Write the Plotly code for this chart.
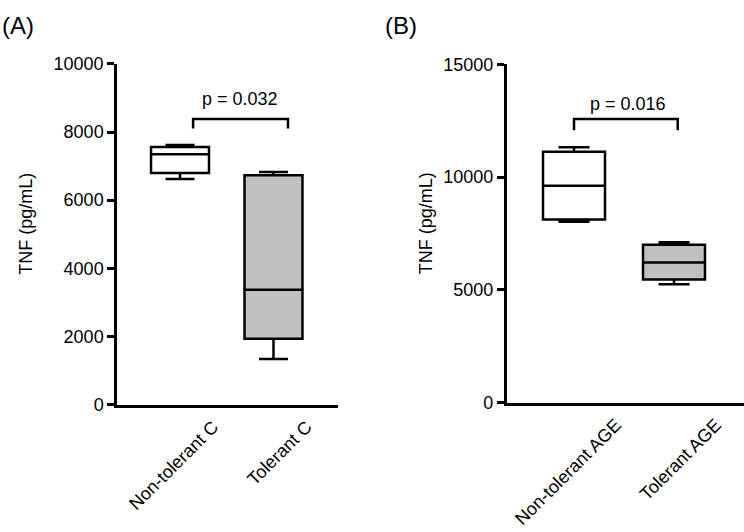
import plotly.graph_objects as go

# ---------------- data ----------------
cats_a = ["Non-tolerant C", "Tolerant C"]
upper_a = [7620, 6830]
q3_a = [7560, 6730]
median_a = [7345, 3370]
q1_a = [6800, 1930]
lower_a = [6620, 1340]

cats_b = ["Non-tolerant AGE", "Tolerant AGE"]
upper_b = [11320, 7115]
q3_b = [11130, 7000]
median_b = [9615, 6220]
q1_b = [8120, 5465]
lower_b = [8025, 5250]

fills = ["#ffffff", "#c0c0c0"]

# significance brackets (x span in category units, y level / leg end in pg/mL)
brk_a_x = [0.14, 0.14, 1.155, 1.155]
brk_a_y = [8100, 8380, 8380, 8100]
p_a = "p = 0.032"
brk_b_x = [0.0, 0.0, 1.037, 1.037]
brk_b_y = [12080, 12580, 12580, 12080]
p_b = "p = 0.016"

FONT = "Liberation Sans, Arial, sans-serif"
W, H = 744, 532

fig = go.Figure()


def add_boxes(cats, lo, q1, med, q3, hi, xa, ya):
    for i in range(len(cats)):
        fig.add_trace(go.Box(
            x=[i], q1=[q1[i]], median=[med[i]], q3=[q3[i]],
            lowerfence=[lo[i]], upperfence=[hi[i]],
            width=0.62, whiskerwidth=0.5,
            fillcolor=fills[i], line=dict(color="black", width=2.5),
            boxpoints=False, xaxis=xa, yaxis=ya, showlegend=False,
            hoverinfo="skip"))


add_boxes(cats_a, lower_a, q1_a, median_a, q3_a, upper_a, "x", "y")
add_boxes(cats_b, lower_b, q1_b, median_b, q3_b, upper_b, "x2", "y2")

fig.add_trace(go.Scatter(x=brk_a_x, y=brk_a_y, mode="lines",
                         line=dict(color="black", width=2.5),
                         xaxis="x", yaxis="y", showlegend=False, hoverinfo="skip"))
fig.add_trace(go.Scatter(x=brk_b_x, y=brk_b_y, mode="lines",
                         line=dict(color="black", width=2.5),
                         xaxis="x2", yaxis="y2", showlegend=False, hoverinfo="skip"))

axfont = dict(family=FONT, size=18, color="black")

common_x = dict(showgrid=False, zeroline=False, showline=True, linecolor="black",
                linewidth=2.5, ticks="", tickangle=-45, tickfont=axfont,
                tickmode="array", tickvals=[0, 1], ticklabelstandoff=2)
common_y = dict(showgrid=False, zeroline=False, showline=True, linecolor="black",
                linewidth=2.5, ticks="outside", ticklen=7, tickwidth=2.5,
                tickcolor="black", tickfont=axfont, tickformat="d")

fig.update_layout(
    width=W, height=H,
    margin=dict(l=0, r=0, t=0, b=0),
    paper_bgcolor="white", plot_bgcolor="white",
    font=dict(family=FONT, color="black"),
    xaxis=dict(common_x, domain=[117 / W, 338 / W], range=[-0.674, 1.690],
               ticktext=cats_a, anchor="y", ticklabelshift=33),
    yaxis=dict(common_y, domain=[1 - 410 / H, 1 - 56 / H], range=[0, 10000],
               dtick=2000, anchor="x"),
    xaxis2=dict(common_x, domain=[506.7 / W, 1.0], range=[-0.673, 1.70],
                ticktext=cats_b, anchor="y2", ticklabelshift=42),
    yaxis2=dict(common_y, domain=[1 - 408 / H, 1 - 56.5 / H], range=[0, 15000],
                dtick=5000, anchor="x2"),
)

ann = [
    dict(text=p_a, x=0.64, y=8960, xref="x", yref="y", showarrow=False,
         font=axfont, xanchor="center", yanchor="middle"),
    dict(text=p_b, x=0.537, y=13260, xref="x2", yref="y2", showarrow=False,
         font=axfont, xanchor="center", yanchor="middle"),
    dict(text="TNF (pg/mL)", x=26 / W, y=1 - 222 / H, xref="paper", yref="paper",
         showarrow=False, textangle=-90, font=axfont, xanchor="center", yanchor="middle"),
    dict(text="TNF (pg/mL)", x=425.5 / W, y=1 - 222 / H, xref="paper", yref="paper",
         showarrow=False, textangle=-90, font=axfont, xanchor="center", yanchor="middle"),
    dict(text="(A)", x=0 / W, y=1 - 0 / H, xref="paper", yref="paper",
         showarrow=False, font=dict(family=FONT, size=24, color="black"),
         xanchor="left", yanchor="top"),
    dict(text="(B)", x=383 / W, y=1 - 0 / H, xref="paper", yref="paper",
         showarrow=False, font=dict(family=FONT, size=24, color="black"),
         xanchor="left", yanchor="top"),
]
fig.update_layout(annotations=ann)

fig.write_html("out.html")
